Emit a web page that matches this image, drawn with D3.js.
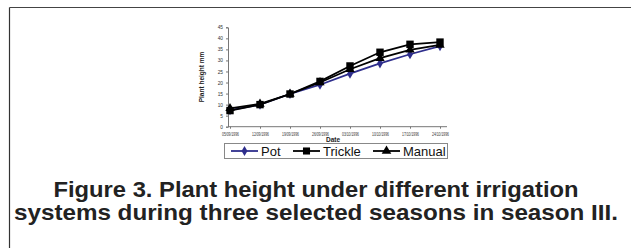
<!DOCTYPE html>
<html><head><meta charset="utf-8">
<script src="https://cdn.jsdelivr.net/npm/d3@7"></script>
<style>body{margin:0;background:#fff}svg{display:block}</style>
</head><body>
<script>
const dates = ["05/09/1996","12/09/1996","19/09/1996","26/09/1996","03/10/1996","10/10/1996","17/10/1996","24/10/1996"];
const pot     = [7.5, 10, 14.8, 19, 24, 28.7, 32.8, 36.5];
const trickle = [7.3, 10, 14.8, 20.5, 27.5, 33.7, 37.3, 38.3];
const manual  = [8.3, 10.3, 14.8, 20, 26, 31, 34.8, 37];
const yTicks  = [0,5,10,15,20,25,30,35,40,45];
const seriesNames = ["Pot","Trickle","Manual"];
const captionLines = ["Figure 3. Plant height under different irrigation","systems during three selected seasons in season III."];

const W=631,H=248;
const svg=d3.select("body").append("svg").attr("width",W).attr("height",H);
svg.append("rect").attr("width",W).attr("height",H).attr("fill","#fff");
// frame
svg.append("line").attr("x1",9.5).attr("x2",W).attr("y1",7.5).attr("y2",7.5).attr("stroke","#444").attr("stroke-width",1.2);
svg.append("line").attr("x1",9.5).attr("x2",9.5).attr("y1",7.5).attr("y2",H).attr("stroke","#333").attr("stroke-width",1.2);

const x=d3.scalePoint().domain(dates).range([230,440]);
const y=d3.scaleLinear().domain([0,45]).range([126.7,27.3]);
const axX=228;
const F="Arial, Liberation Sans, sans-serif";

// y axis
const ya=svg.append("g").attr("transform",`translate(${axX},0)`)
  .call(d3.axisLeft(y).tickValues(yTicks).tickSize(2).tickPadding(3));
ya.select(".domain").attr("stroke","#777");
ya.selectAll("line").attr("stroke","#777");
ya.selectAll("text").attr("font-family",F).attr("font-size",4.8).attr("fill","#333");

// x axis
svg.append("line").attr("x1",axX).attr("x2",447).attr("y1",y(0)).attr("y2",y(0)).attr("stroke","#777");
const xa=svg.append("g").attr("transform",`translate(0,${y(0)})`)
  .call(d3.axisBottom(x).tickSize(2).tickPadding(3));
xa.select(".domain").remove();
xa.selectAll("line").attr("stroke","#777");
xa.selectAll("text").attr("font-family",F).attr("font-size",5.5).attr("fill","#333")
  .attr("textLength",17).attr("lengthAdjust","spacingAndGlyphs");

// axis titles
svg.append("text").attr("transform",`translate(204,${(y(0)+y(45))/2}) rotate(-90)`)
  .attr("text-anchor","middle").attr("font-family",F)
  .attr("font-weight","bold").attr("font-size",6.5).attr("fill","#222").text("Plant height mm");
svg.append("text").attr("x",333).attr("y",142).attr("text-anchor","middle")
  .attr("font-family",F).attr("font-weight","bold")
  .attr("font-size",6.5).attr("fill","#222").text("Date");

const data=[{name:"Pot",vals:pot,color:"#2e2e8c",shape:d3.symbolDiamond,size:30},
            {name:"Manual",vals:manual,color:"#000",shape:d3.symbolTriangle,size:38},
            {name:"Trickle",vals:trickle,color:"#000",shape:d3.symbolSquare,size:55}];
const line=d3.line().x((d,i)=>x(dates[i])).y(d=>y(d));
data.forEach(s=>{
  svg.append("path").datum(s.vals).attr("d",line).attr("fill","none").attr("stroke",s.color).attr("stroke-width",1.8);
});
data.forEach(s=>{
  svg.append("g").selectAll("path").data(s.vals).join("path")
    .attr("transform",(d,i)=>`translate(${x(dates[i])},${y(d)})`)
    .attr("d",d3.symbol().type(s.shape).size(s.size)).attr("fill",s.color);
});

// legend
const lg=svg.append("g");
lg.append("rect").attr("x",224.5).attr("y",143.5).attr("width",223).attr("height",15).attr("fill","#fff").attr("stroke","#888");
const legItems=[{name:"Pot",x0:231,color:"#2e2e8c",shape:d3.symbolDiamond,size:30},
                {name:"Trickle",x0:293,color:"#000",shape:d3.symbolSquare,size:50},
                {name:"Manual",x0:373,color:"#000",shape:d3.symbolTriangle,size:40}];
legItems.forEach(it=>{
  lg.append("line").attr("x1",it.x0).attr("x2",it.x0+27).attr("y1",151).attr("y2",151).attr("stroke",it.color).attr("stroke-width",1.8);
  lg.append("path").attr("transform",`translate(${it.x0+13.5},151)`).attr("d",d3.symbol().type(it.shape).size(it.size)).attr("fill",it.color);
  lg.append("text").attr("x",it.x0+30).attr("y",155.7).attr("font-family",F)
    .attr("font-size",13).attr("fill","#111").text(it.name);
});

// caption
const capW=[525,604];
captionLines.forEach((t,i)=>{
  svg.append("text").attr("x",316).attr("y",197+i*23).attr("text-anchor","middle")
    .attr("font-family",F)
    .attr("font-weight","bold").attr("font-size",22).attr("fill","#222")
    .attr("textLength",capW[i]).attr("lengthAdjust","spacingAndGlyphs").text(t);
});
</script>
</body></html>
